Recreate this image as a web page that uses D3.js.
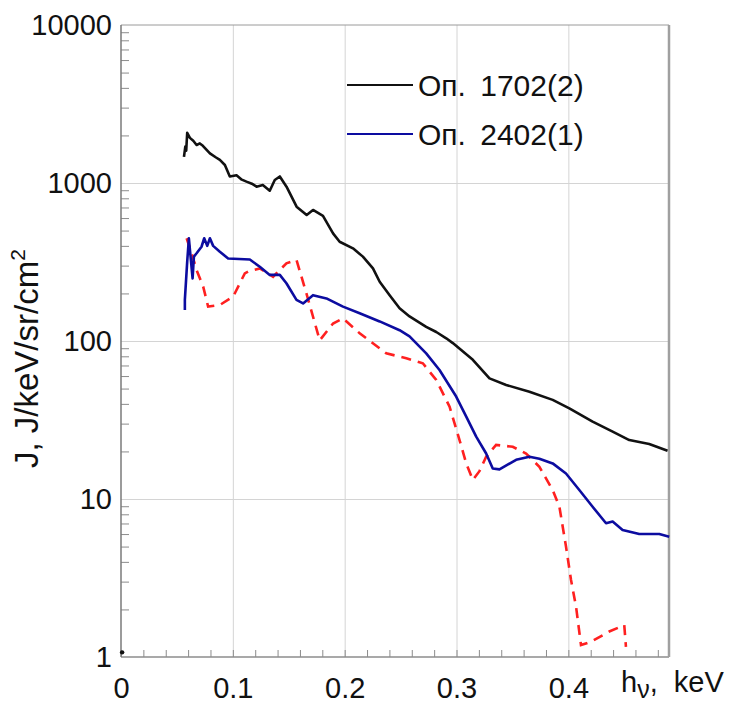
<!DOCTYPE html>
<html lang="ru">
<head>
<meta charset="UTF-8">
<title>J(hν)</title>
<script src="https://cdn.jsdelivr.net/npm/d3@7"></script>
<style>
    body { margin: 0; background: #fff; }
    svg { display: block; font-family: "Liberation Sans", Arial, sans-serif; }
    .grid line { stroke: #d4d4d4; stroke-width: 1; }
    .grid path { display: none; }
    .minor line { stroke: #8c8c8c; stroke-width: 1; }
    .minor path { display: none; }
    .lbl text { font-size: 29px; fill: #111; }
    .lbl path, .lbl line { display: none; }
</style>
</head>
<body>
<script>
    // серии: [hν, keV ; J]
    const shot1702 = [
        [0.0563, 1462], [0.0575, 1700], [0.0583, 1600], [0.0592, 2080], [0.0616, 1930],
        [0.0646, 1850], [0.0676, 1740], [0.0705, 1780], [0.0732, 1720], [0.0795, 1540],
        [0.0850, 1450], [0.0884, 1400], [0.0929, 1300], [0.0973, 1100], [0.1033, 1120],
        [0.1080, 1050], [0.1122, 1020], [0.1170, 990], [0.1212, 948], [0.1268, 970],
        [0.1330, 894], [0.1375, 1045], [0.1420, 1100], [0.1480, 948], [0.1570, 708],
        [0.1660, 627], [0.1717, 675], [0.1806, 620], [0.1896, 480], [0.1955, 425],
        [0.2074, 386], [0.2163, 342], [0.2253, 288], [0.2313, 237], [0.2402, 195],
        [0.2491, 161], [0.2580, 143], [0.2729, 123], [0.2819, 114], [0.2908, 104],
        [0.2967, 97], [0.3146, 76], [0.3295, 58], [0.3444, 52.7], [0.3652, 47.8],
        [0.3860, 42.4], [0.4009, 37.5], [0.4217, 30.9], [0.4396, 26.7], [0.4545, 23.6],
        [0.4723, 22.3], [0.4887, 20.2]
    ];
    const shot2402 = [
        [0.0571, 157], [0.0571, 182], [0.0592, 318], [0.0607, 447], [0.0622, 342],
        [0.0640, 249], [0.0652, 342], [0.0676, 359], [0.0720, 395], [0.0744, 447],
        [0.0771, 400], [0.0795, 447], [0.0824, 400], [0.0884, 367], [0.0958, 333],
        [0.1152, 328], [0.1241, 295], [0.1330, 262], [0.1420, 262], [0.1479, 232],
        [0.1569, 182], [0.1628, 173], [0.1717, 195], [0.1837, 186], [0.1985, 165],
        [0.2134, 150], [0.2313, 133], [0.2491, 117], [0.2580, 107], [0.2729, 83.5],
        [0.2848, 65.5], [0.2997, 44.5], [0.3087, 33.2], [0.3176, 24.8], [0.3265, 19.4],
        [0.3324, 15.6], [0.3384, 15.4], [0.3533, 17.7], [0.3652, 18.5], [0.3741, 18.0],
        [0.3860, 16.8], [0.3979, 14.5], [0.4098, 11.4], [0.4217, 8.93], [0.4337, 7.02],
        [0.4396, 7.2], [0.4485, 6.37], [0.4634, 6.0], [0.4813, 6.0], [0.4902, 5.77]
    ];
    const calc = [
        [0.0587, 447], [0.0631, 360], [0.0676, 281], [0.0735, 221], [0.0779, 165],
        [0.0884, 169], [0.1003, 191], [0.1107, 268], [0.1137, 275], [0.1241, 288],
        [0.1360, 255], [0.1479, 310], [0.1569, 326], [0.1658, 200], [0.1777, 101],
        [0.1896, 129], [0.1985, 139], [0.2134, 112], [0.2372, 83.5], [0.2551, 77.8],
        [0.2699, 72.3], [0.2819, 56.6], [0.2938, 38.4], [0.3027, 23.6], [0.3087, 16.8],
        [0.3146, 13.2], [0.3205, 15], [0.3265, 18.5], [0.3354, 22], [0.3503, 21.4],
        [0.3622, 19.4], [0.3741, 16], [0.3860, 11.4], [0.3920, 8.93], [0.3979, 5],
        [0.4024, 3.07], [0.4069, 2.08], [0.4113, 1.19], [0.4203, 1.25], [0.4366, 1.45],
        [0.4500, 1.59], [0.4515, 1.16]
    ];
    const originMark = [[0.001, 1.07]];

    const xMajor = [0, 0.1, 0.2, 0.3, 0.4];
    const yMajor = [1, 10, 100, 1000, 10000];
    const legendNames = ["Оп. 1702(2)", "Оп. 2402(1)"];

    const W = 731, H = 704;
    const L = 121, R = 669, T = 25, B = 657;

    const svg = d3.select("body").append("svg")
        .attr("width", W).attr("height", H);

    const x = d3.scaleLinear().domain([0, 0.49]).range([L, R]);
    const y = d3.scaleLog().domain([1, 10000]).range([B, T]);

    const xMinor = d3.range(0, 0.49, 0.02);
    const yMinor = [];
    for (let d = 1; d < 10000; d *= 10)
        for (let k = 2; k <= 9; k++) yMinor.push(d * k);

    /* сетка */
    svg.append("g").attr("class", "grid")
        .attr("transform", `translate(0,${B})`)
        .call(d3.axisBottom(x).tickValues(xMajor.slice(1)).tickSize(-(B - T)).tickFormat(""));
    svg.append("g").attr("class", "grid")
        .attr("transform", `translate(${L},0)`)
        .call(d3.axisLeft(y).tickValues(yMajor.slice(1, 4)).tickSize(-(R - L)).tickFormat(""));

    /* мелкие риски внутрь */
    svg.append("g").attr("class", "minor")
        .attr("transform", `translate(0,${B})`)
        .call(d3.axisBottom(x).tickValues(xMinor).tickSize(-7).tickFormat(""));
    svg.append("g").attr("class", "minor")
        .attr("transform", `translate(${L},0)`)
        .call(d3.axisLeft(y).tickValues(yMinor).tickSize(-8).tickFormat(""));

    /* рамка */
    svg.append("line").attr("x1", L).attr("x2", R).attr("y1", T).attr("y2", T)
        .attr("stroke", "#9a9a9a").attr("stroke-width", 1);
    svg.append("line").attr("x1", L).attr("x2", R).attr("y1", B).attr("y2", B)
        .attr("stroke", "#8c8c8c").attr("stroke-width", 1.5);
    svg.append("line").attr("x1", L).attr("x2", L).attr("y1", T).attr("y2", B)
        .attr("stroke", "#7a7a7a").attr("stroke-width", 1.5);
    svg.append("line").attr("x1", R).attr("x2", R).attr("y1", T).attr("y2", B)
        .attr("stroke", "#a0a0a0").attr("stroke-width", 2.5);

    /* подписи осей */
    svg.append("g").attr("class", "lbl")
        .attr("transform", `translate(0,${B})`)
        .call(d3.axisBottom(x).tickValues(xMajor).tickSize(0).tickPadding(20)
            .tickFormat(d => d === 0 ? "0" : d3.format(".1f")(d)));
    svg.append("g").attr("class", "lbl")
        .attr("transform", `translate(${L},0)`)
        .call(d3.axisLeft(y).tickValues(yMajor).tickSize(0).tickPadding(9)
            .tickFormat(d3.format("d")));

    const xt = svg.append("text").attr("x", 621).attr("y", 692)
        .style("font-size", "29px").attr("fill", "#111");
    xt.append("tspan").text("h");
    xt.append("tspan").attr("dy", 6).style("font-size", "25px").text("ν");
    xt.append("tspan").attr("dy", -6).style("word-spacing", "8px").text(", keV");

    const yt = svg.append("text")
        .attr("transform", "translate(38,468) rotate(-90)")
        .style("font-size", "33px").attr("fill", "#111");
    yt.append("tspan").text("J, J/keV/sr/cm");
    yt.append("tspan").attr("dy", -13).style("font-size", "21px").text("2");

    /* кривые */
    const line = d3.line().x(d => x(d[0])).y(d => y(d[1]));
    const plot = svg.append("g");
    plot.append("path").datum(calc).attr("d", line)
        .attr("fill", "none").attr("stroke", "#ff2020").attr("stroke-width", 2.6)
        .attr("stroke-dasharray", "10,7");
    plot.append("path").datum(shot2402).attr("d", line)
        .attr("fill", "none").attr("stroke", "#0c0ca0").attr("stroke-width", 2.6)
        .attr("stroke-linejoin", "round");
    plot.append("path").datum(shot1702).attr("d", line)
        .attr("fill", "none").attr("stroke", "#111").attr("stroke-width", 2.6)
        .attr("stroke-linejoin", "round");
    plot.selectAll("circle").data(originMark).join("circle")
        .attr("cx", d => x(d[0])).attr("cy", d => y(d[1])).attr("r", 2.2).attr("fill", "#111");

    /* легенда */
    const legColors = ["#111", "#0c0ca0"];
    const leg = svg.append("g").selectAll("g").data(legendNames).join("g")
        .attr("transform", (d, i) => `translate(347,${85 + i * 49})`);
    leg.append("line").attr("x1", 0).attr("x2", 66)
        .attr("stroke", (d, i) => legColors[i]).attr("stroke-width", 2.2);
    leg.append("text").attr("x", 71).attr("y", 11)
        .style("font-size", "30px").style("word-spacing", "6px").attr("fill", "#111")
        .text(d => d);
</script>
</body>
</html>
